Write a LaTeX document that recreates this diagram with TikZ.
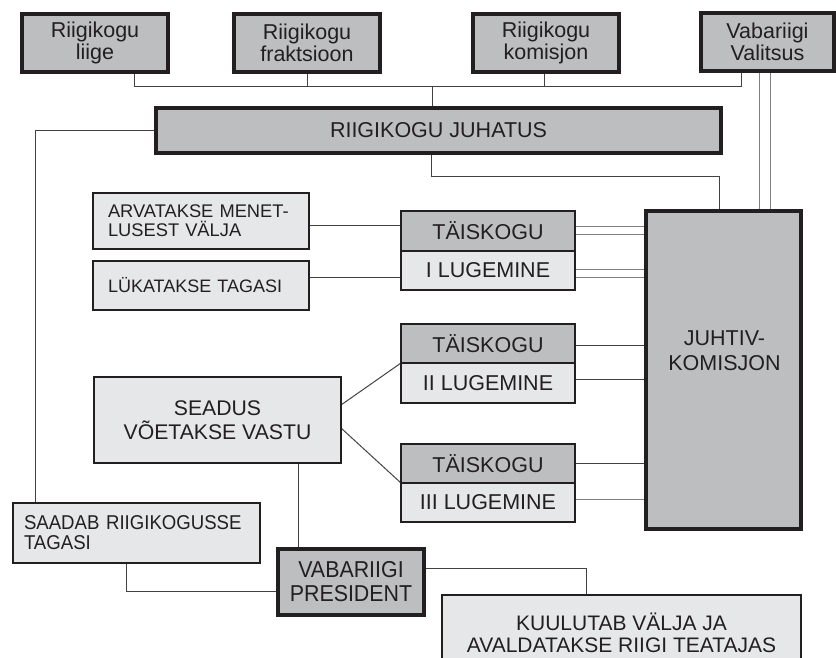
\documentclass[tikz,border=0pt]{standalone}
\usepackage{fontspec}
\setmainfont{Liberation Sans}
\newfontfamily\narrowfont[FakeStretch=0.93]{Liberation Sans}
\usetikzlibrary{backgrounds}
\definecolor{boxdark}{HTML}{BCBEC0}
\definecolor{boxlight}{HTML}{E6E7E8}
\definecolor{ink}{HTML}{231F20}
\begin{document}
\begin{tikzpicture}[x=1pt,y=-1pt,
  base/.style={draw=ink, text=ink, inner sep=0pt, outer sep=0pt, align=center,
    font=\fontsize{21.5}{22}\selectfont},
  darkbox/.style={base, fill=boxdark, line width=3.2pt},
  lightbox/.style={base, fill=boxlight, line width=2.4pt},
  readbox/.style={base, line width=2.4pt, minimum width=174pt},
  leftbox/.style={lightbox, align=left},
  conn/.style={draw=ink!85, line width=1pt},
  dbl/.style={draw=gray, line width=1pt, double=white, double distance=7pt},
  txt/.style={text=ink, inner sep=0pt, align=center, font=\fontsize{21.5}{25}\selectfont}
]
\useasboundingbox (0,0) rectangle (836,658);

% top row
\node[darkbox, minimum width=146pt, minimum height=58pt] (liige) at (95,43) {Riigikogu\\liige};
\node[darkbox, minimum width=146pt, minimum height=58pt] (frak) at (307,43) {Riigikogu\\fraktsioon};
\node[darkbox, minimum width=146pt, minimum height=58pt] (kom) at (546,43) {Riigikogu\\komisjon};
\node[darkbox, minimum width=133pt, minimum height=58pt] (val) at (767.5,42) {Vabariigi\\Valitsus};

\node[darkbox, minimum width=565pt, minimum height=45pt] (juhatus) at (438.5,130.5) {RIIGIKOGU JUHATUS};

% left boxes
\node[leftbox, minimum width=216pt, minimum height=56pt, text width=186pt,
  font=\fontsize{18.3}{19}\selectfont] (arv) at (201,221) {ARVATAKSE MENET-\\LUSEST VÄLJA};
\node[leftbox, minimum width=216pt, minimum height=49pt, text width=186pt,
  font=\fontsize{18}{19}\selectfont] (luk) at (201,285.5) {LÜKATAKSE TAGASI};

% readings
\node[readbox, fill=boxdark, minimum height=40pt] (t1) at (488,231) {TÄISKOGU};
\node[readbox, fill=boxlight, minimum height=39pt] (l1) at (488,270.5) {I LUGEMINE};
\node[readbox, fill=boxdark, minimum height=39pt] (t2) at (488,343.5) {TÄISKOGU};
\node[readbox, fill=boxlight, minimum height=40pt] (l2) at (488,383) {II LUGEMINE};
\node[readbox, fill=boxdark, minimum height=39pt] (t3) at (488,463.5) {TÄISKOGU};
\node[readbox, fill=boxlight, minimum height=39pt] (l3) at (488,502.5) {III LUGEMINE};

% juhtivkomisjon
\node[darkbox, minimum width=155pt, minimum height=318pt] (juhtiv) at (723.5,370) {};
\node[txt] (juhtivtext) at (724.5,351) {JUHTIV-\\KOMISJON};

% seadus
\node[lightbox, minimum width=247pt, minimum height=86pt,
  font=\fontsize{21.2}{24}\selectfont] (seadus) at (217.5,420) {SEADUS\\VÕETAKSE VASTU};

% bottom
\node[leftbox, minimum width=247pt, minimum height=60pt, text width=225pt,
  font=\narrowfont\fontsize{20}{20}\selectfont] (saadab) at (136.5,533) {SAADAB RIIGIKOGUSSE\\TAGASI};
\node[darkbox, minimum width=146pt, minimum height=66pt,
  font=\narrowfont\fontsize{23}{24}\selectfont] (pres) at (351,582) {VABARIIGI\\PRESIDENT};
\node[lightbox, minimum width=359pt, minimum height=76pt,
  font=\fontsize{21}{21.5}\selectfont] (kuul) at (621.5,633) {KUULUTAB VÄLJA JA\\AVALDATAKSE RIIGI TEATAJAS};

\begin{pgfonlayer}{background}
% bus
\draw[conn] ([xshift=39pt]liige.south) -- ++(0,15) -| ([xshift=-26.5pt]val.south);
\draw[conn] (frak.south) -- ++(0,15);
\draw[conn] ([xshift=-2pt]kom.south) -- ++(0,15);
\draw[conn] ([xshift=-6.5pt]juhatus.north) -- ++(0,-21);
% juhatus links
\draw[conn] ([xshift=-7.5pt]juhatus.south) -- ++(0,24) -| ([xshift=-4.5pt]juhtiv.north);
\draw[conn] (juhatus.west) -| ([xshift=-101.5pt]saadab.north);
% valitsus to juhtiv
\draw[dbl, double distance=10pt] ([xshift=-3pt]val.south) -- ([xshift=-3pt]val.south |- juhtiv.north);
% left boxes to readings
\draw[conn] ([yshift=-4pt]arv.east) -- ([yshift=-4pt]arv.east -| t1.west);
\draw[conn] ([yshift=8.5pt]luk.east) -- ([yshift=8.5pt]luk.east -| l1.west);
% readings to juhtiv
\draw[dbl] ([yshift=1pt]t1.east) -- ([yshift=1pt]t1.east -| juhtiv.west);
\draw[dbl] ([yshift=-2.5pt]l1.east) -- ([yshift=-2.5pt]l1.east -| juhtiv.west);
\draw[conn] ([yshift=-1.5pt]t2.east) -- ([yshift=-1.5pt]t2.east -| juhtiv.west);
\draw[conn] ([yshift=4pt]l2.east) -- ([yshift=4pt]l2.east -| juhtiv.west);
\draw[conn] (t3.east) -- (t3.east -| juhtiv.west);
\draw[conn, draw=gray] ([yshift=3.5pt]l3.east) -- ([yshift=3.5pt]l3.east -| juhtiv.west);
% seadus
\draw[conn] ([yshift=15pt]seadus.east) -- (t2.south west);
\draw[conn] ([yshift=-8pt]seadus.east) -- (t3.south west);
\draw[conn] ([xshift=20pt]pres.north west) -- ([xshift=20pt]pres.north west |- seadus.south);
% bottom
\draw[conn] ([xshift=-10.5pt]saadab.south) |- ([yshift=-9pt]pres.west);
\draw[conn] ([yshift=14pt]pres.east) -| ([xshift=-35.5pt]kuul.north);
\end{pgfonlayer}
\end{tikzpicture}
\end{document}
